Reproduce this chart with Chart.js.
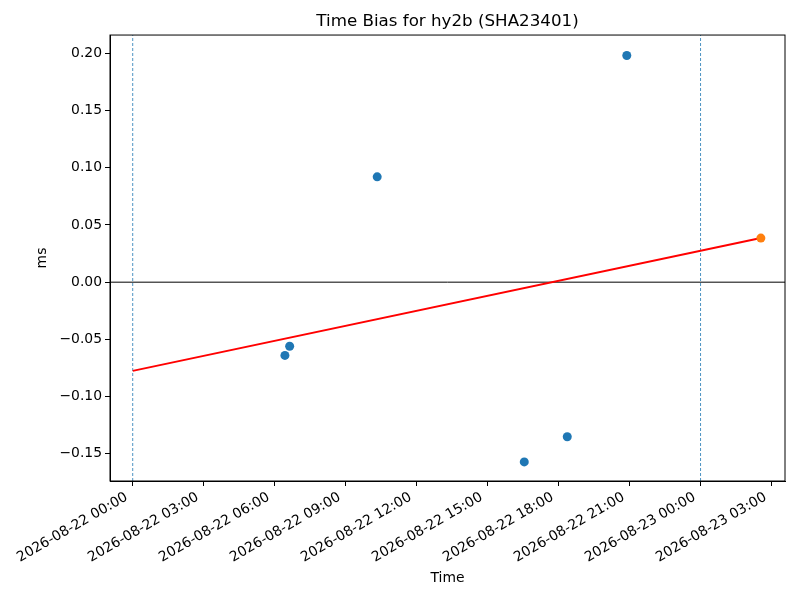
<!DOCTYPE html>
<html lang="en">
<head>
  <meta charset="UTF-8">
  <title>Time Bias for hy2b (SHA23401)</title>
  <style>
    body { margin: 0; background: #fff; }
    canvas { display: block; }
  </style>
</head>
<body>
  <canvas id="myChart" width="800" height="600"></canvas>

  <script src="https://cdn.jsdelivr.net/npm/chart.js"></script>
  <script>
    // measured samples
    const sampleTimes = ['2026-08-22 06:26', '2026-08-22 06:38', '2026-08-22 10:20',
                         '2026-08-22 16:33', '2026-08-22 18:22', '2026-08-22 20:53'];
    const sampleBias = [-0.064, -0.056, 0.092, -0.157, -0.135, 0.198];

    // predicted point
    const predTimes = ['2026-08-23 02:33'];
    const predBias = [0.0385];

    // fitted trend
    const fitTimes = ['2026-08-22 00:00', '2026-08-23 02:33'];
    const fitBias = [-0.0775, 0.0385];

    // day boundaries
    const dayMarks = ['2026-08-22 00:00', '2026-08-23 00:00'];

    // tick labels
    const xTickLabels = ['2026-08-22 00:00', '2026-08-22 03:00', '2026-08-22 06:00', '2026-08-22 09:00',
                         '2026-08-22 12:00', '2026-08-22 15:00', '2026-08-22 18:00', '2026-08-22 21:00',
                         '2026-08-23 00:00', '2026-08-23 03:00'];
    const yTickValues = [-0.15, -0.10, -0.05, 0.00, 0.05, 0.10, 0.15, 0.20];

    const baseTime = '2026-08-22 00:00';
    const xMin = -0.96, xMax = 27.57;
    const yMin = -0.1737, yMax = 0.2159;

    function toMs(s) {
      const [d, t] = s.split(' ');
      const [Y, M, D] = d.split('-').map(Number);
      const [h, m] = t.split(':').map(Number);
      return Date.UTC(Y, M - 1, D, h, m);
    }
    function hours(s) {
      return (toMs(s) - toMs(baseTime)) / 3600000;
    }
    function pts(ts, vs) {
      return ts.map((t, i) => ({ x: hours(t), y: vs[i] }));
    }

    const vlineSets = dayMarks.map(d => ({
      type: 'line',
      data: [{ x: hours(d), y: yMin }, { x: hours(d), y: yMax }],
      borderColor: '#1f77b4',
      borderWidth: 0.8,
      borderDash: [3, 2],
      pointRadius: 0,
      order: 4
    }));

    const boxPlugin = {
      id: 'box',
      afterDraw(chart) {
        const a = chart.chartArea;
        const ctx = chart.ctx;
        ctx.save();
        ctx.strokeStyle = '#000';
        ctx.lineWidth = 1;
        ctx.strokeRect(a.left, a.top, a.right - a.left, a.bottom - a.top);
        ctx.restore();
      }
    };

    Chart.defaults.color = '#000';
    Chart.defaults.font.family = "'DejaVu Sans', sans-serif";
    Chart.defaults.font.size = 13.9;

    const ctx = document.getElementById('myChart').getContext('2d');
    new Chart(ctx, {
      type: 'scatter',
      data: {
        datasets: [
          {
            data: pts(sampleTimes, sampleBias),
            backgroundColor: '#1f77b4',
            borderWidth: 0,
            pointRadius: 4.5,
            order: 0
          },
          {
            data: pts(predTimes, predBias),
            backgroundColor: '#ff7f0e',
            borderWidth: 0,
            pointRadius: 4.5,
            order: 0
          },
          {
            type: 'line',
            data: pts(fitTimes, fitBias),
            borderColor: '#ff0000',
            borderWidth: 2,
            pointRadius: 0,
            order: 2
          },
          {
            type: 'line',
            data: [{ x: xMin, y: 0 }, { x: xMax, y: 0 }],
            borderColor: '#000',
            borderWidth: 1,
            pointRadius: 0,
            order: 3
          },
          ...vlineSets
        ]
      },
      options: {
        responsive: false,
        animation: false,
        devicePixelRatio: 1,
        layout: { padding: { left: 30, right: 15, top: 0, bottom: 12 } },
        plugins: {
          legend: { display: false },
          tooltip: { enabled: false },
          title: {
            display: true,
            fullSize: false,
            text: 'Time Bias for hy2b (SHA23401)',
            font: { size: 16.7, weight: 'normal' },
            padding: { top: 12, bottom: 3 }
          }
        },
        scales: {
          x: {
            type: 'linear',
            min: xMin,
            max: xMax,
            afterBuildTicks: s => { s.ticks = xTickLabels.map(t => ({ value: hours(t) })); },
            afterFit: s => { s.height = 107; },
            ticks: {
              autoSkip: false,
              minRotation: 30,
              maxRotation: 30,
              padding: 3,
              labelOffset: -6,
              callback: (v, i) => xTickLabels[i]
            },
            grid: { drawOnChartArea: false, tickLength: 5, color: '#000' },
            border: { color: '#000', width: 1 },
            title: { display: true, text: 'Time', padding: { top: 2, bottom: 1 } }
          },
          y: {
            min: yMin,
            max: yMax,
            afterBuildTicks: s => { s.ticks = yTickValues.map(v => ({ value: v })); },
            afterFit: s => { s.width = 80; },
            ticks: {
              padding: 3,
              callback: v => v.toFixed(2).replace('-', '\u2212')
            },
            grid: { drawOnChartArea: false, tickLength: 5, color: '#000' },
            border: { color: '#000', width: 1 },
            title: { display: true, text: 'ms', padding: { top: 4, bottom: 4 } }
          }
        }
      },
      plugins: [boxPlugin]
    });
  </script>
</body>
</html>
